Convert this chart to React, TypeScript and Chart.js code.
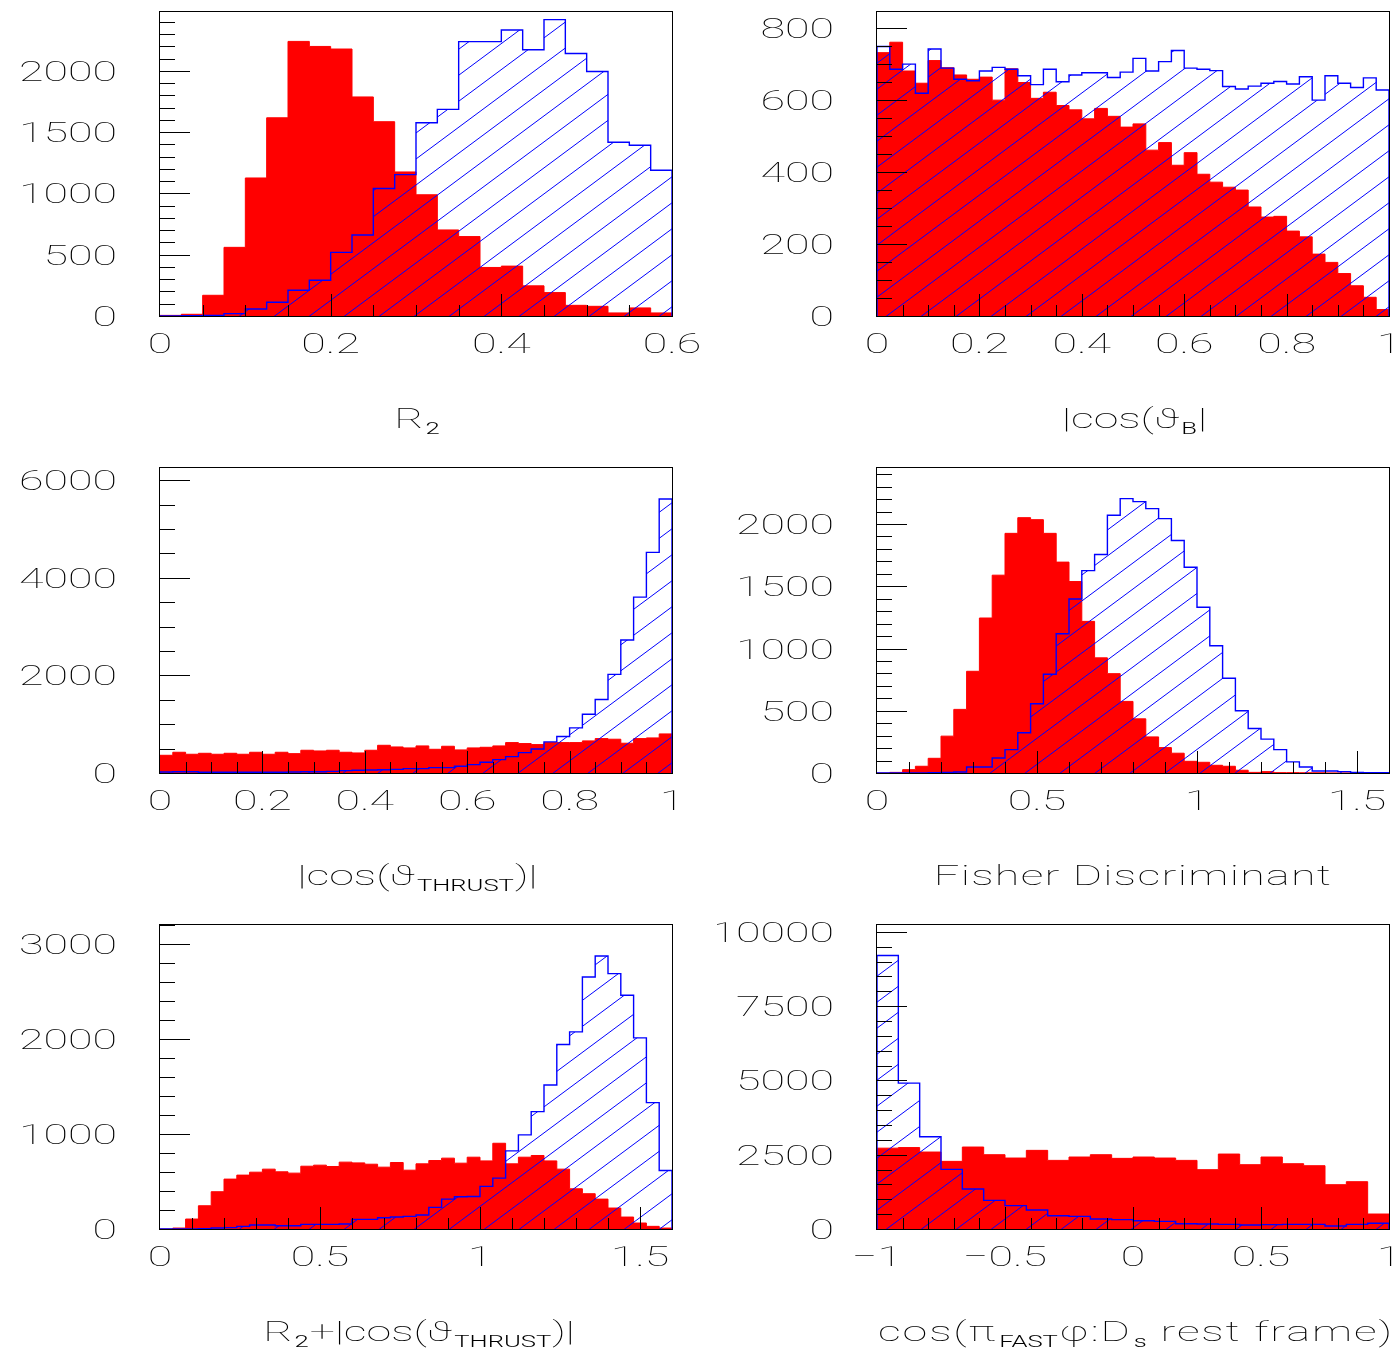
import React, { useEffect, useRef } from "react";
import { Chart, registerables } from "chart.js";

Chart.register(...registerables);

const RED = "#ff0000";
const BLUE = "#0000ff";

// ---- R2 (24 bins, 0 .. 0.6) ----
const r2Signal = [5, 14, 169, 560, 1126, 1617, 2240, 2199, 2178, 1787, 1585, 1175, 989, 702, 648, 396, 407, 246, 191, 87, 79, 25, 66, 25];
const r2Continuum = [0, 2, 5, 19, 57, 112, 210, 292, 519, 661, 1040, 1153, 1577, 1686, 2238, 2238, 2333, 2172, 2418, 2142, 1995, 1418, 1393, 1189];
const r2XTicks = [0, 0.2, 0.4, 0.6];
const r2YTicks = [0, 500, 1000, 1500, 2000];

// ---- |cos(theta_B)| (40 bins, 0 .. 1) ----
const cosBSignal = [732, 761, 681, 647, 710, 690, 670, 658, 664, 600, 687, 649, 605, 622, 585, 573, 548, 577, 555, 525, 534, 461, 482, 419, 454, 394, 372, 358, 350, 303, 275, 277, 236, 220, 172, 149, 118, 84, 52, 18];
const cosBContinuum = [749, 686, 700, 619, 742, 689, 658, 654, 681, 691, 686, 668, 643, 686, 651, 670, 676, 676, 663, 678, 716, 681, 707, 738, 689, 686, 682, 638, 631, 639, 647, 652, 645, 665, 600, 668, 647, 635, 662, 628];
const cosBXTicks = [0, 0.2, 0.4, 0.6, 0.8, 1];
const cosBYTicks = [0, 200, 400, 600, 800];

// ---- |cos(theta_thrust)| (40 bins, 0 .. 1) ----
const thrustSignal = [363, 425, 384, 404, 384, 404, 384, 425, 384, 425, 397, 466, 452, 466, 425, 411, 466, 568, 534, 514, 555, 486, 548, 473, 514, 527, 555, 623, 603, 582, 623, 623, 623, 658, 705, 692, 610, 705, 719, 801];
const thrustContinuum = [20, 27, 27, 14, 14, 14, 14, 14, 14, 14, 20, 27, 27, 34, 48, 55, 62, 68, 75, 89, 89, 110, 110, 137, 171, 219, 274, 336, 418, 493, 637, 747, 925, 1205, 1507, 2021, 2726, 3603, 4521, 5616];
const thrustXTicks = [0, 0.2, 0.4, 0.6, 0.8, 1];
const thrustYTicks = [0, 2000, 4000, 6000];

// ---- Fisher discriminant (40 bins, 0 .. 1.6) ----
const fisherSignal = [0, 5, 27, 54, 118, 296, 511, 817, 1245, 1589, 1925, 2051, 2035, 1925, 1694, 1538, 1218, 925, 798, 575, 435, 290, 204, 159, 94, 86, 62, 54, 22, 5, 11, 3, 3, 2, 2, 1, 1, 0, 0, 0];
const fisherContinuum = [0, 0, 0, 0, 3, 5, 8, 48, 48, 121, 188, 323, 556, 793, 1118, 1398, 1626, 1755, 2070, 2204, 2180, 2124, 2043, 1868, 1653, 1331, 1022, 761, 500, 358, 272, 188, 89, 48, 16, 16, 11, 5, 3, 3];
const fisherXTicks = [0, 0.5, 1, 1.5];
const fisherYTicks = [0, 500, 1000, 1500, 2000];

// ---- R2 + |cos(theta_thrust)| (40 bins, 0 .. 1.6) ----
const sumSignal = [0, 10, 105, 245, 393, 526, 568, 599, 631, 603, 589, 662, 673, 659, 705, 697, 683, 652, 701, 620, 687, 722, 747, 694, 757, 718, 904, 687, 757, 775, 718, 631, 424, 372, 315, 221, 126, 63, 28, 10];
const sumContinuum = [0, 0, 0, 3, 10, 14, 28, 42, 42, 35, 35, 49, 49, 49, 53, 102, 102, 119, 126, 133, 147, 228, 315, 340, 343, 449, 536, 824, 992, 1237, 1518, 1945, 2078, 2657, 2878, 2692, 2464, 2015, 1332, 617];
const sumXTicks = [0, 0.5, 1, 1.5];
const sumYTicks = [0, 1000, 2000, 3000];

// ---- helicity cosine in the Ds rest frame (24 bins, -1 .. 1) ----
const helSignal = [2720, 2740, 2590, 2276, 2758, 2500, 2388, 2646, 2309, 2422, 2500, 2377, 2422, 2388, 2309, 1996, 2522, 2164, 2422, 2197, 2130, 1491, 1592, 504];
const helContinuum = [9204, 4910, 3105, 2007, 1345, 964, 785, 639, 448, 426, 336, 314, 280, 258, 179, 168, 157, 135, 146, 157, 157, 101, 157, 191];
const helXTicks = [-1, -0.5, 0, 0.5, 1];
const helYTicks = [0, 2500, 5000, 7500, 10000];

type Seg = { t: string; sub?: boolean };

interface PanelSpec {
  x: number;
  y: number;
  w: number;
  h: number;
  xMin: number;
  xMax: number;
  yMax: number;
  xMinorStep: number;
  yMinorStep: number;
  signal: number[];
  continuum: number[];
  xTicks: number[];
  yTicks: number[];
  title: Seg[];
  titleSpacing: number;
}

// frame geometry inside every canvas
const FRAME_LEFT = 160;
const FRAME_TOP = 12;
const FRAME_W = 512;

const COL_X = [0, 717];
const COL_W = [717, 678];
const ROW_Y = [0, 456, 913];
const ROW_H = [456, 457, 439];
const ROW_FRAME_H = [304, 305, 304];

const panels: PanelSpec[] = [
  {
    x: COL_X[0], y: ROW_Y[0], w: COL_W[0], h: ROW_H[0],
    xMin: 0, xMax: 0.6, yMax: 2480, xMinorStep: 0.05, yMinorStep: 100,
    signal: r2Signal, continuum: r2Continuum, xTicks: r2XTicks, yTicks: r2YTicks,
    title: [{ t: "R" }, { t: "2", sub: true }], titleSpacing: 0,
  },
  {
    x: COL_X[1], y: ROW_Y[0], w: COL_W[1], h: ROW_H[0],
    xMin: 0, xMax: 1, yMax: 845, xMinorStep: 0.05, yMinorStep: 50,
    signal: cosBSignal, continuum: cosBContinuum, xTicks: cosBXTicks, yTicks: cosBYTicks,
    title: [{ t: "|cos(\u03D1" }, { t: "B", sub: true }, { t: "|" }], titleSpacing: 0,
  },
  {
    x: COL_X[0], y: ROW_Y[1], w: COL_W[0], h: ROW_H[1],
    xMin: 0, xMax: 1, yMax: 6250, xMinorStep: 0.05, yMinorStep: 500,
    signal: thrustSignal, continuum: thrustContinuum, xTicks: thrustXTicks, yTicks: thrustYTicks,
    title: [{ t: "|cos(\u03D1" }, { t: "THRUST", sub: true }, { t: ")|" }], titleSpacing: 0,
  },
  {
    x: COL_X[1], y: ROW_Y[1], w: COL_W[1], h: ROW_H[1],
    xMin: 0, xMax: 1.6, yMax: 2450, xMinorStep: 0.1, yMinorStep: 100,
    signal: fisherSignal, continuum: fisherContinuum, xTicks: fisherXTicks, yTicks: fisherYTicks,
    title: [{ t: "Fisher Discriminant" }], titleSpacing: 0.8,
  },
  {
    x: COL_X[0], y: ROW_Y[2], w: COL_W[0], h: ROW_H[2],
    xMin: 0, xMax: 1.6, yMax: 3205, xMinorStep: 0.1, yMinorStep: 200,
    signal: sumSignal, continuum: sumContinuum, xTicks: sumXTicks, yTicks: sumYTicks,
    title: [{ t: "R" }, { t: "2", sub: true }, { t: "+|cos(\u03D1" }, { t: "THRUST", sub: true }, { t: ")|" }], titleSpacing: 0,
  },
  {
    x: COL_X[1], y: ROW_Y[2], w: COL_W[1], h: ROW_H[2],
    xMin: -1, xMax: 1, yMax: 10230, xMinorStep: 0.1, yMinorStep: 500,
    signal: helSignal, continuum: helContinuum, xTicks: helXTicks, yTicks: helYTicks,
    title: [{ t: "cos(\u03C0" }, { t: "FAST", sub: true }, { t: "\u03C6:D" }, { t: "s", sub: true }, { t: " rest frame)" }], titleSpacing: 1.2,
  },
];

// Outline of a histogram as points at bin edges, for a stepped line.
function histPoints(values: number[], lo: number, hi: number) {
  const n = values.length;
  const w = (hi - lo) / n;
  const pts = [{ x: lo, y: 0 }];
  values.forEach((v, i) => pts.push({ x: lo + i * w, y: v }));
  pts.push({ x: hi, y: values[n - 1] });
  pts.push({ x: hi, y: 0 });
  return pts;
}

// Diagonal hatch used for the continuum histogram.
function makeHatch(ctx: CanvasRenderingContext2D): CanvasPattern | string {
  const w = 35;
  const h = 26;
  const tile = document.createElement("canvas");
  tile.width = w;
  tile.height = h;
  const t = tile.getContext("2d");
  if (!t) return BLUE;
  t.strokeStyle = BLUE;
  t.lineWidth = 1;
  for (let k = -1; k <= 1; k++) {
    t.beginPath();
    t.moveTo(k * w - w, 2 * h);
    t.lineTo(k * w + 2 * w, -h);
    t.stroke();
  }
  return ctx.createPattern(tile, "repeat") || BLUE;
}

const SX = 1.6;
const MAIN_FONT = "100 28px Roboto, 'DejaVu Sans', sans-serif";
const SUB_FONT = "300 16px Roboto, 'DejaVu Sans', sans-serif";

function drawRich(
  ctx: CanvasRenderingContext2D,
  segs: Seg[],
  x: number,
  baseline: number,
  align: "left" | "center" | "right",
  spacing = 0
) {
  const setFont = (s: Seg) => {
    ctx.font = s.sub ? SUB_FONT : MAIN_FONT;
    (ctx as any).letterSpacing = s.sub ? "0px" : `${spacing}px`;
  };
  const widths = segs.map((s) => {
    setFont(s);
    return ctx.measureText(s.t).width * SX;
  });
  const total = widths.reduce((a, b) => a + b, 0);
  let cx = align === "center" ? x - total / 2 : align === "right" ? x - total : x;
  segs.forEach((s, i) => {
    ctx.save();
    setFont(s);
    ctx.textAlign = "left";
    ctx.textBaseline = "alphabetic";
    ctx.translate(cx + (s.sub ? 2 : 0), baseline + (s.sub ? 6 : 0));
    ctx.scale(SX, 1);
    ctx.fillText(s.t, 0, 0);
    ctx.restore();
    cx += widths[i] + (s.sub ? 3 : 0);
  });
  (ctx as any).letterSpacing = "0px";
}

const fmt = (v: number) => (v < 0 ? "\u2212" : "") + String(Math.abs(v));

function HistPanel({ spec, frameH }: { spec: PanelSpec; frameH: number }) {
  const ref = useRef<HTMLCanvasElement | null>(null);

  useEffect(() => {
    const canvas = ref.current;
    if (!canvas) return;
    const ctx = canvas.getContext("2d");
    if (!ctx) return;
    const hatch = makeHatch(ctx);

    const axesPlugin = {
      id: "pawAxes",
      afterDraw(chart: any) {
        const c: CanvasRenderingContext2D = chart.ctx;
        const a = chart.chartArea;
        const xs = chart.scales.x;
        const ys = chart.scales.y;
        c.save();
        c.strokeStyle = "#000";
        c.lineWidth = 1;
        c.strokeRect(Math.round(a.left) - 0.5, Math.round(a.top) - 0.5, Math.round(a.width) + 1, Math.round(a.height) + 1);

        const isIn = (arr: number[], v: number) => arr.some((t) => Math.abs(t - v) < 1e-6);

        // y ticks, drawn inward from the left edge
        const nY = Math.floor(spec.yMax / spec.yMinorStep + 1e-6);
        c.beginPath();
        for (let i = 1; i <= nY; i++) {
          const v = i * spec.yMinorStep;
          const py = Math.round(ys.getPixelForValue(v)) + 0.5;
          const len = isIn(spec.yTicks, v) ? 30 : 15;
          c.moveTo(a.left, py);
          c.lineTo(a.left + len, py);
        }
        // x ticks, drawn upward from the bottom edge
        const nX = Math.round((spec.xMax - spec.xMin) / spec.xMinorStep);
        for (let i = 1; i < nX; i++) {
          const v = spec.xMin + i * spec.xMinorStep;
          const px = Math.round(xs.getPixelForValue(v)) + 0.5;
          const len = isIn(spec.xTicks, v) ? 22 : 11;
          c.moveTo(px, a.bottom);
          c.lineTo(px, a.bottom - len);
        }
        c.stroke();

        c.fillStyle = "#000";
        spec.yTicks.forEach((v) => {
          const py = ys.getPixelForValue(v);
          drawRich(c, [{ t: fmt(v) }], a.left - 43, py + 10, "right");
        });
        spec.xTicks.forEach((v) => {
          const px = xs.getPixelForValue(v);
          drawRich(c, [{ t: fmt(v) }], px, a.bottom + 37, "center");
        });
        drawRich(c, spec.title, (a.left + a.right) / 2, a.bottom + 112, "center", spec.titleSpacing);
        c.restore();
      },
    };

    const chart = new Chart(canvas, {
      type: "line",
      data: {
        datasets: [
          {
            data: histPoints(spec.continuum, spec.xMin, spec.xMax),
            stepped: "before",
            borderColor: BLUE,
            borderWidth: 1.4,
            backgroundColor: hatch as any,
            fill: "origin",
            pointRadius: 0,
            order: 1,
          },
          {
            data: histPoints(spec.signal, spec.xMin, spec.xMax),
            stepped: "before",
            borderColor: RED,
            borderWidth: 1,
            backgroundColor: RED,
            fill: "origin",
            pointRadius: 0,
            order: 2,
          },
        ],
      },
      options: {
        animation: false,
        responsive: false,
        maintainAspectRatio: false,
        events: [],
        layout: {
          padding: {
            left: FRAME_LEFT,
            top: FRAME_TOP,
            right: spec.w - FRAME_LEFT - FRAME_W,
            bottom: spec.h - FRAME_TOP - frameH,
          },
        },
        scales: {
          x: { type: "linear", min: spec.xMin, max: spec.xMax, display: false },
          y: { type: "linear", min: 0, max: spec.yMax, display: false },
        },
        plugins: {
          legend: { display: false },
          tooltip: { enabled: false },
        },
      },
      plugins: [axesPlugin],
    } as any);

    return () => chart.destroy();
  }, [spec, frameH]);

  return (
    <canvas
      ref={ref}
      width={spec.w}
      height={spec.h}
      style={{ position: "absolute", left: spec.x, top: spec.y, width: spec.w, height: spec.h }}
    />
  );
}

export default function App() {
  return (
    <div
      style={{
        position: "absolute",
        left: 0,
        top: 0,
        width: 1395,
        height: 1352,
        overflow: "hidden",
        background: "#fff",
      }}
    >
      {panels.map((p, i) => (
        <HistPanel key={i} spec={p} frameH={ROW_FRAME_H[Math.floor(i / 2)]} />
      ))}
    </div>
  );
}
